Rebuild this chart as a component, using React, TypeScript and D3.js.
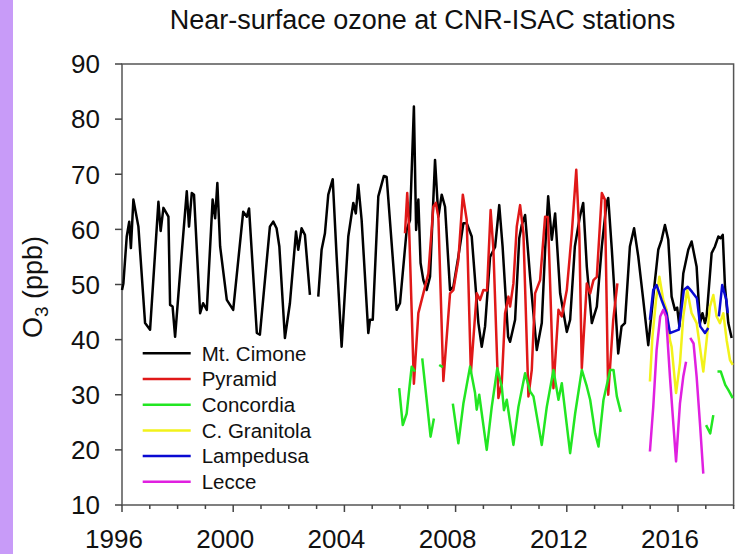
import React from "react";
import * as d3 from "d3";

type P = [number, number] | null;

// Monthly-ish O3 (ppb) values: [decimal year, value]; null = data gap
const cimone: P[] = [
  [1996.0, 49.0], [1996.05, 50.2], [1996.17, 58.7], [1996.26, 61.4], [1996.32, 56.6], [1996.41, 65.4],
  [1996.59, 60.5], [1996.83, 43.0], [1997.01, 41.8], [1997.31, 65.0], [1997.39, 59.7], [1997.49, 63.9],
  [1997.67, 62.3], [1997.73, 46.3], [1997.82, 46.0], [1997.91, 40.5], [1998.09, 52.1], [1998.33, 66.9],
  [1998.41, 60.5], [1998.51, 66.6], [1998.59, 66.3], [1998.81, 44.8], [1998.92, 46.6], [1999.05, 45.4],
  [1999.26, 65.4], [1999.35, 62.0], [1999.43, 68.4], [1999.53, 56.9], [1999.77, 47.2], [2000.0, 45.4],
  [2000.36, 63.2], [2000.49, 62.3], [2000.57, 63.8], [2000.85, 41.2], [2000.96, 40.9], [2001.32, 60.5],
  [2001.44, 61.4], [2001.56, 60.2], [2001.66, 56.9], [2001.86, 40.3], [2002.04, 46.6], [2002.26, 59.6],
  [2002.34, 56.3], [2002.46, 60.2], [2002.58, 59.0], [2002.76, 48.1],
  null,
  [2003.06, 47.8], [2003.18, 56.3], [2003.3, 59.3], [2003.42, 66.3], [2003.58, 69.1], [2003.72, 55.1],
  [2003.9, 38.7], [2004.14, 58.7], [2004.32, 64.8], [2004.41, 62.9], [2004.5, 68.1], [2004.62, 61.7],
  [2004.86, 41.2], [2004.92, 43.6], [2005.02, 43.6], [2005.22, 66.0], [2005.42, 69.7], [2005.52, 69.5],
  [2005.88, 45.4], [2006.0, 46.6], [2006.24, 59.9], [2006.36, 61.7], [2006.5, 82.3], [2006.58, 59.9],
  [2006.66, 65.4], [2006.74, 53.9], [2006.84, 50.8], [2006.96, 49.0], [2007.08, 51.4], [2007.26, 72.6],
  [2007.38, 62.3], [2007.5, 66.3], [2007.62, 64.1], [2007.8, 49.0], [2007.92, 49.6], [2008.1, 55.1],
  [2008.28, 61.1], [2008.4, 61.1], [2008.58, 58.7], [2008.82, 43.0], [2008.94, 38.7], [2009.06, 42.4],
  [2009.24, 55.0], [2009.42, 56.8], [2009.57, 64.4], [2009.69, 56.9], [2009.89, 40.5], [2009.96, 39.6],
  [2010.14, 43.6], [2010.29, 58.4], [2010.38, 60.8], [2010.5, 62.6], [2010.68, 51.4], [2010.92, 38.1],
  [2011.1, 43.0], [2011.22, 56.3], [2011.33, 66.0], [2011.46, 58.1], [2011.58, 62.9], [2011.76, 48.4],
  [2012.0, 41.4], [2012.12, 43.6], [2012.29, 56.9], [2012.47, 62.3], [2012.59, 64.8], [2012.72, 53.2],
  [2012.9, 43.0], [2013.08, 46.0], [2013.26, 56.9], [2013.43, 64.8], [2013.49, 65.7], [2013.62, 56.3],
  [2013.79, 42.4], [2013.85, 37.5], [2013.97, 42.4], [2014.09, 43.0], [2014.27, 56.9], [2014.42, 60.2],
  [2014.57, 55.1], [2014.75, 47.2], [2014.93, 39.0], [2015.11, 47.8], [2015.29, 56.3], [2015.41, 58.1],
  [2015.53, 60.8], [2015.65, 58.1], [2015.77, 47.8], [2015.89, 45.4], [2015.97, 45.8], [2016.05, 42.4],
  [2016.19, 52.0], [2016.37, 56.3], [2016.49, 57.8], [2016.67, 53.2], [2016.79, 43.0], [2016.88, 44.8],
  [2016.97, 43.0], [2017.03, 44.2], [2017.21, 55.7], [2017.33, 56.9], [2017.45, 58.7], [2017.53, 58.4],
  [2017.61, 59.0], [2017.69, 49.6], [2017.81, 43.0], [2017.93, 40.3],
];

const pyramid: P[] = [
  [2006.18, 59.3], [2006.26, 66.6], [2006.33, 59.9], [2006.5, 32.0], [2006.66, 44.8], [2006.84, 48.4],
  [2007.02, 52.0], [2007.2, 64.1], [2007.29, 64.8], [2007.38, 62.3], [2007.56, 32.5], [2007.8, 48.4],
  [2007.92, 49.0], [2008.1, 54.5], [2008.26, 66.3], [2008.4, 61.7], [2008.55, 34.0], [2008.76, 48.4],
  [2008.88, 47.2], [2009.0, 49.0], [2009.13, 48.9], [2009.26, 63.5], [2009.36, 56.3], [2009.54, 29.4],
  [2009.66, 32.1], [2009.78, 44.8], [2009.9, 47.8], [2009.96, 46.0], [2010.08, 50.2], [2010.2, 60.5],
  [2010.32, 64.4], [2010.44, 59.3], [2010.62, 29.7], [2010.74, 34.5], [2010.86, 48.4], [2011.04, 50.8],
  [2011.22, 62.3], [2011.32, 62.2], [2011.4, 50.2], [2011.52, 31.2], [2011.7, 45.4], [2011.82, 44.2],
  [2012.0, 49.0], [2012.18, 59.3], [2012.34, 70.8], [2012.45, 59.3], [2012.54, 34.8], [2012.72, 50.2],
  [2012.84, 48.4], [2012.96, 50.8], [2013.08, 51.4], [2013.26, 66.6], [2013.37, 65.4], [2013.49, 30.0],
  [2013.67, 43.6], [2013.82, 50.2],
];

const concordia: P[] = [
  [2005.97, 31.2], [2006.1, 24.5], [2006.24, 26.6], [2006.42, 35.1], [2006.54, 34.2],
  null,
  [2006.8, 36.6], [2007.1, 22.4], [2007.22, 25.7],
  null,
  [2007.41, 35.4], [2007.54, 35.0],
  null,
  [2007.9, 28.4], [2008.1, 21.2], [2008.28, 28.4], [2008.52, 35.1], [2008.7, 30.3], [2008.76, 27.3],
  [2008.85, 30.0], [2009.12, 20.0], [2009.3, 27.8], [2009.5, 34.8], [2009.66, 31.5], [2009.74, 27.2],
  [2009.84, 29.1], [2010.08, 20.9], [2010.26, 27.8], [2010.5, 33.9], [2010.68, 30.6], [2010.8, 29.7],
  [2011.1, 20.9], [2011.28, 27.8], [2011.52, 34.5], [2011.7, 29.1], [2011.82, 32.1], [2012.12, 19.4],
  [2012.3, 26.6], [2012.54, 34.5], [2012.72, 31.5], [2012.84, 29.1], [2013.02, 23.0], [2013.14, 20.6],
  [2013.32, 29.1], [2013.56, 34.5], [2013.68, 34.5], [2013.8, 29.7], [2013.94, 26.9],
  null,
  [2017.01, 24.5], [2017.16, 23.0], [2017.27, 26.3],
  null,
  [2017.42, 34.2], [2017.54, 34.2], [2017.7, 31.8], [2017.81, 30.9], [2017.97, 29.4],
];

const granitola: P[] = [
  [2014.99, 32.4], [2015.08, 40.5], [2015.21, 47.2], [2015.33, 51.4], [2015.47, 47.2], [2015.59, 45.4],
  [2015.71, 39.9], [2015.77, 38.7], [2015.93, 30.3], [2016.07, 35.7], [2016.19, 44.2], [2016.33, 49.0],
  [2016.49, 44.8], [2016.67, 43.0], [2016.91, 34.2], [2017.03, 39.9], [2017.15, 46.0], [2017.27, 48.1],
  [2017.39, 44.2], [2017.51, 43.0], [2017.63, 44.8], [2017.75, 39.9], [2017.87, 36.3], [2017.97, 35.4],
];

const lampedusa: P[] = [
  [2014.99, 43.6], [2015.11, 49.0], [2015.23, 49.9], [2015.41, 47.2], [2015.59, 44.8], [2015.71, 41.2],
  [2015.87, 41.5], [2016.03, 41.8], [2016.21, 49.0], [2016.35, 49.6], [2016.5, 48.7], [2016.68, 47.5],
  [2016.8, 42.4], [2016.97, 41.2], [2017.09, 42.1],
  null,
  [2017.47, 44.2], [2017.59, 49.9], [2017.74, 47.2], [2017.79, 44.8],
];

const lecce: P[] = [
  [2014.99, 19.7], [2015.11, 27.8], [2015.23, 38.1], [2015.36, 44.2], [2015.47, 45.4], [2015.57, 44.2],
  [2015.71, 33.3], [2015.93, 17.9], [2016.07, 28.4], [2016.19, 33.3], [2016.29, 36.0],
  null,
  [2016.44, 40.3], [2016.56, 39.3], [2016.67, 33.3], [2016.79, 24.8], [2016.91, 15.7],
];

const seriesNames = ["Mt. Cimone", "Pyramid", "Concordia", "C. Granitola", "Lampedusa", "Lecce"];
const seriesColors = ["#000000", "#e01818", "#22e622", "#f2f21a", "#0a0ad2", "#e020e0"];
const seriesData = [cimone, pyramid, concordia, granitola, lampedusa, lecce];

const yTicks = [10, 20, 30, 40, 50, 60, 70, 80, 90];
const xMajorTicks = [1996, 2000, 2004, 2008, 2012, 2016];
const xMinorTicks = d3.range(1996, 2019, 1);

const W = 742;
const H = 554;
const FONT = "'Liberation Sans', Arial, Helvetica, sans-serif";

export default function App() {
  const x = d3.scaleLinear().domain([1996, 2018]).range([122, 733.6]);
  const y = d3.scaleLinear().domain([10, 90]).range([505, 64]);
  const line = d3
    .line<P>()
    .defined((d) => d !== null)
    .x((d) => x((d as [number, number])[0]))
    .y((d) => y((d as [number, number])[1]));

  const [x0, x1] = x.range();
  const [yb, yt] = y.range();

  return (
    <svg
      width={W}
      height={H}
      style={{ position: "absolute", left: 0, top: 0, background: "#fff" }}
      fontFamily={FONT}
    >
      <rect x={0} y={0} width={W} height={H} fill="#fff" />
      <rect x={0} y={0} width={13} height={H} fill="#c89bf8" />

      <text x={422.5} y={29} textAnchor="middle" fontSize={27} fill="#111">
        Near-surface ozone at CNR-ISAC stations
      </text>

      {/* frame */}
      <rect x={x0} y={yt} width={x1 - x0} height={yb - yt} fill="none" stroke="#555" strokeWidth={1.5} />

      {/* y ticks */}
      {yTicks.map((t) => (
        <g key={"y" + t}>
          <line x1={x0 - 7} x2={x0} y1={y(t)} y2={y(t)} stroke="#444" strokeWidth={1.5} />
          <text x={100} y={y(t)} dy="0.36em" textAnchor="end" fontSize={26} fill="#111">
            {t}
          </text>
        </g>
      ))}

      {/* x ticks */}
      {xMinorTicks.map((t) => (
        <line
          key={"xm" + t}
          x1={x(t)}
          x2={x(t)}
          y1={yb}
          y2={yb + (xMajorTicks.includes(t) ? 7 : 4)}
          stroke="#444"
          strokeWidth={1.5}
        />
      ))}
      {xMajorTicks.map((t) => (
        <text key={"xl" + t} x={x(t) - 8} y={548} textAnchor="middle" fontSize={26} fill="#111">
          {t}
        </text>
      ))}

      {/* y label */}
      <text transform="translate(42,287) rotate(-90)" textAnchor="middle" fontSize={27} fill="#111">
        O<tspan dy={6} fontSize={19}>3</tspan>
        <tspan dy={-6}> (ppb)</tspan>
      </text>

      {/* series */}
      {seriesData.map((d, i) => (
        <path
          key={seriesNames[i]}
          d={line(d) || ""}
          fill="none"
          stroke={seriesColors[i]}
          strokeWidth={2.5}
          strokeLinejoin="round"
        />
      ))}

      {/* legend */}
      {seriesNames.map((n, i) => {
        const ly = 353.3 + i * 25.7;
        return (
          <g key={"lg" + n}>
            <line x1={142.7} x2={190.7} y1={ly} y2={ly} stroke={seriesColors[i]} strokeWidth={2.5} />
            <text x={201.7} y={ly} dy="0.36em" fontSize={20.5} fill="#111">
              {n}
            </text>
          </g>
        );
      })}
    </svg>
  );
}
